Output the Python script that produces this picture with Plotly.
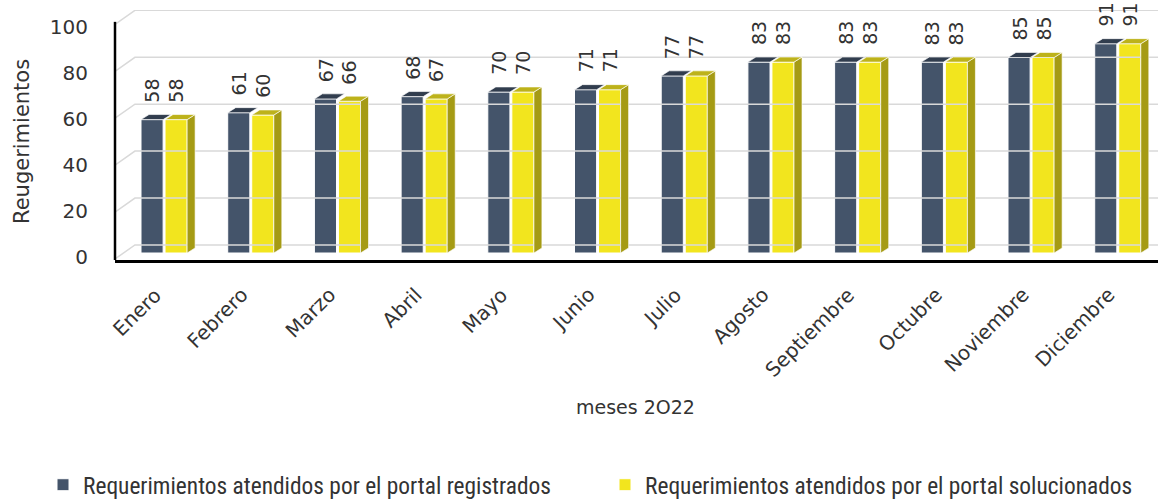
import plotly.graph_objects as go

months = ["Enero", "Febrero", "Marzo", "Abril", "Mayo", "Junio", "Julio",
          "Agosto", "Septiembre", "Octubre", "Noviembre", "Diciembre"]
registrados = [58, 61, 67, 68, 70, 71, 77, 83, 83, 83, 85, 91]
solucionados = [58, 60, 66, 67, 70, 71, 77, 83, 83, 83, 85, 91]
y_ticks = [0, 20, 40, 60, 80, 100]
name_reg = "Requerimientos atendidos por el portal registrados"
name_sol = "Requerimientos atendidos por el portal solucionados"

DARK = "#44546a"
DARK_TOP = "#313d4e"
YEL = "#f2e51e"
YEL_SIDE = "#a59b14"
YEL_TOP = "#bdb21a"
GRID = "#d9d9d9"
TXT = "#333333"

W = 0.255
OFF_D = -0.265
OFF_Y = 0.012
DX = 0.092
DY = 2.2
X0, X1 = -0.565, 11.465
Y0, Y1 = -3.04, 105.65

xs = list(range(len(months)))
FONT = "'DejaVu Sans', sans-serif"
NARROW = "'Liberation Sans Narrow', 'Roboto Condensed', 'Liberation Sans', sans-serif"

fig = go.Figure()

# back-wall gridlines (3D look)
gx, gy = [], []
xb = X0 + 0.23
for v in y_ticks:
    gx += [X0, xb, X1, None]
    gy += [v * 1.02 - 2.6, v * 1.02 + 3.5, v * 1.02 + 3.5, None]
fig.add_trace(go.Scatter(x=gx, y=gy, mode="lines", line=dict(color=GRID, width=1.5),
                         hoverinfo="skip", showlegend=False, cliponaxis=False))

fig.add_trace(go.Bar(x=xs, y=registrados, name=name_reg, width=W, offset=OFF_D,
                     marker=dict(color=DARK, line=dict(color="white", width=1)),
                     legend="legend"))
fig.add_trace(go.Bar(x=xs, y=solucionados, name=name_sol, width=W, offset=OFF_Y,
                     marker=dict(color=YEL, line=dict(color="white", width=1)),
                     legend="legend2"))


def top_faces(vals, off):
    px, py = [], []
    for x, v in zip(xs, vals):
        xl = x + off
        xr = xl + W
        px += [xl, xr, xr + DX, xl + DX, xl, None]
        py += [v, v, v + DY, v + DY, v, None]
    return px, py


def side_faces(vals, off):
    px, py = [], []
    for x, v in zip(xs, vals):
        xr = x + off + W
        px += [xr, xr, xr + DX, xr + DX, xr, None]
        py += [0, v, v + DY, DY, 0, None]
    return px, py


for (px, py), col in [(side_faces(solucionados, OFF_Y), YEL_SIDE),
                      (top_faces(registrados, OFF_D), DARK_TOP),
                      (top_faces(solucionados, OFF_Y), YEL_TOP)]:
    fig.add_trace(go.Scatter(x=px, y=py, mode="lines", fill="toself", fillcolor=col,
                             line=dict(color="rgba(255,255,255,0.8)", width=0.8),
                             hoverinfo="skip", showlegend=False))

annotations = []
for vals, off in [(registrados, OFF_D), (solucionados, OFF_Y)]:
    for x, v in zip(xs, vals):
        annotations.append(dict(x=x + off + W / 2, y=v, xref="x", yref="y", text=str(v),
                                showarrow=False, textangle=-90, yanchor="bottom",
                                xanchor="center", yshift=15,
                                font=dict(family=FONT, size=19, color=TXT)))

# category labels (rotated)
for x, m in zip(xs, months):
    annotations.append(dict(x=x, y=(260 - 280) / 250, xref="x", yref="paper", text=m,
                            showarrow=False, textangle=-45, xanchor="right", yanchor="top",
                            xshift=5, font=dict(family=FONT, size=20, color=TXT)))

annotations.append(dict(x=(22 - 115) / 1043, y=(260 - 142) / 250, xref="paper", yref="paper",
                        text="Reugerimientos", showarrow=False, textangle=-90,
                        xanchor="center", yanchor="middle",
                        font=dict(family=FONT, size=21, color=TXT)))
annotations.append(dict(x=(635 - 115) / 1043, y=(260 - 407) / 250, xref="paper", yref="paper",
                        text="meses 2O22", showarrow=False, xanchor="center", yanchor="middle",
                        font=dict(family=FONT, size=19, color=TXT)))

leg_common = dict(orientation="h", yref="paper", y=(260 - 485) / 250, yanchor="middle",
                  xanchor="left", bgcolor="rgba(0,0,0,0)",
                  font=dict(family=NARROW, size=23.4, color=TXT))

fig.update_layout(
    width=1160, height=499,
    margin=dict(l=115, r=2, t=10, b=239, autoexpand=False),
    plot_bgcolor="white", paper_bgcolor="white",
    barmode="overlay",
    annotations=annotations,
    shapes=[dict(type="line", xref="paper", yref="y", x0=0, x1=0, y0=Y0, y1=100.5,
                 line=dict(color="black", width=2.5))],
    xaxis=dict(range=[X0, X1], tickvals=xs, showticklabels=False, automargin=False,
               showgrid=False, zeroline=False, showline=True, linecolor="black",
               linewidth=2.5, ticks=""),
    yaxis=dict(range=[Y0, Y1], tickvals=y_ticks, showgrid=False, zeroline=False,
               showline=False, ticks="", ticklabelstandoff=26, ticklabelshift=4,
               automargin=False, tickfont=dict(family=FONT, size=20, color=TXT)),
    legend=dict(x=(91 - 48 - 115) / 1043, **leg_common),
    legend2=dict(x=(653 - 48 - 115) / 1043, **leg_common),
)

fig.write_html("out.html", post_script="document.body.style.margin='0';",
               config={"displayModeBar": False})
